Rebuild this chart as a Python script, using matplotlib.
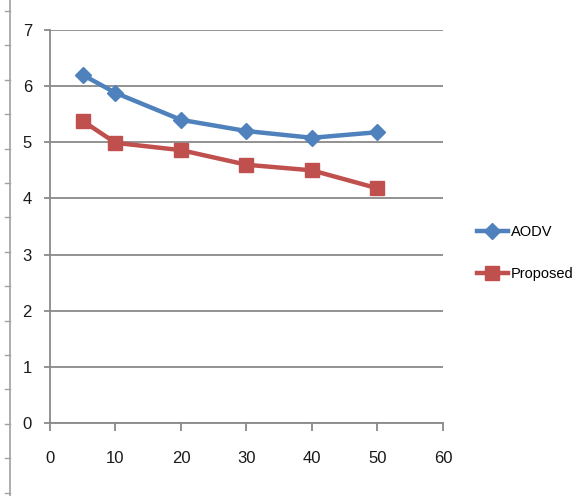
import matplotlib
matplotlib.use("Agg")
import matplotlib.pyplot as plt
from matplotlib.lines import Line2D

x_values = [5, 10, 20, 30, 40, 50]
aodv = [6.2, 5.88, 5.4, 5.2, 5.08, 5.18]
proposed = [5.38, 4.99, 4.86, 4.6, 4.5, 4.18]
x_ticks = [0, 10, 20, 30, 40, 50, 60]
y_ticks = [0, 1, 2, 3, 4, 5, 6, 7]

W, H = 587, 496
fig = plt.figure(figsize=(W / 100, H / 100), dpi=100)
ax = fig.add_axes([50 / W, 1 - 423 / H, (443 - 50) / W, (423 - 30) / H])

grid_c = "#898989"
blue = "#4F81BD"
red = "#C0504D"
font = "Liberation Sans"

ax.plot(x_values, aodv, color=blue, lw=3.2, marker="D", ms=8.5, label="AODV", zorder=3)
ax.plot(x_values, proposed, color=red, lw=3.2, marker="s", ms=9.5, label="Proposed", zorder=3)

ax.set_xlim(0, 60)
ax.set_ylim(0, 7)
ax.set_xticks(x_ticks)
ax.set_yticks(y_ticks)
ax.yaxis.grid(True, color=grid_c, lw=1.3)
ax.set_axisbelow(True)
for s in ["top", "right"]:
    ax.spines[s].set_visible(False)
for s in ["left", "bottom"]:
    ax.spines[s].set_color(grid_c)
    ax.spines[s].set_linewidth(1.3)
ax.tick_params(axis="x", direction="out", length=6, width=1.3, color=grid_c, pad=14,
               labelsize=12, labelcolor="#1a1a1a")
ax.tick_params(axis="y", direction="out", length=4, width=1.3, color=grid_c, pad=9,
               labelsize=12, labelcolor="#1a1a1a")
for lab in ax.get_xticklabels() + ax.get_yticklabels():
    lab.set_fontfamily(font)

leg = fig.legend(loc="center left", bbox_to_anchor=(464 / W, 1 - 253 / H), frameon=False,
                 handlelength=2.1, handletextpad=0.2, labelspacing=1.9,
                 prop={"family": font, "size": 10.5})

# decorative left ruler line
fig.add_artist(Line2D([10 / W, 10 / W], [0, 1], transform=fig.transFigure, color="#a0a0a0", lw=1.2))
for i in range(15):
    yp = 11 + i * 34.4
    fig.add_artist(Line2D([5 / W, 10 / W], [1 - yp / H, 1 - yp / H], transform=fig.transFigure,
                          color="#a0a0a0", lw=1.0))

fig.savefig("out.png", dpi=100)
